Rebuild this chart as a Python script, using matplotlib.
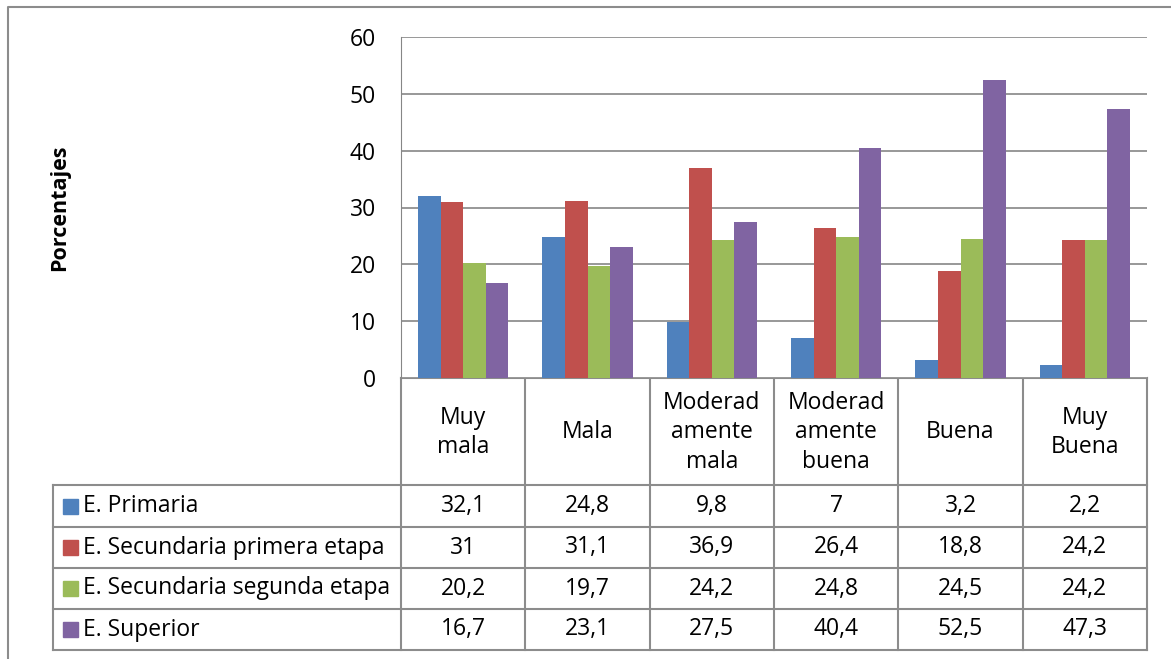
import matplotlib
matplotlib.use("Agg")
import matplotlib.pyplot as plt
import numpy as np

# ── data ──
categories = ["Muy\nmala", "Mala", "Moderad\namente\nmala", "Moderad\namente\nbuena", "Buena", "Muy\nBuena"]
series_names = ["E. Primaria", "E. Secundaria primera etapa",
                "E. Secundaria segunda etapa", "E. Superior"]
primaria = [32.1, 24.8, 9.8, 7, 3.2, 2.2]
sec_primera = [31, 31.1, 36.9, 26.4, 18.8, 24.2]
sec_segunda = [20.2, 19.7, 24.2, 24.8, 24.5, 24.2]
superior = [16.7, 23.1, 27.5, 40.4, 52.5, 47.3]
yticks = [0, 10, 20, 30, 40, 50, 60]

COLORS = ["#4F81BD", "#C0504D", "#9BBB59", "#8064A2"]
GRID = "#868686"
FONT = "Open Sans"
FS = 16.5

W, H = 1171, 659
fig = plt.figure(figsize=(W / 100, H / 100), dpi=100)
fig.patch.set_facecolor("white")

# layout in pixels
px_l, px_r = 401, 1147
py_top, py_zero = 37, 378


def fx(x):
    return x / W


def fy(y):
    return 1 - y / H


ax = fig.add_axes([fx(px_l), fy(py_zero), fx(px_r - px_l), (py_zero - py_top) / H])
data = [primaria, sec_primera, sec_segunda, superior]
x = np.arange(len(categories))
bw = 1 / 5.5
for i, (vals, col) in enumerate(zip(data, COLORS)):
    ax.bar(x + (i - 1.5) * bw, vals, width=bw, color=col, zorder=3)

ax.set_xlim(-0.5, len(categories) - 0.5)
ax.set_ylim(0, 60)
ax.set_yticks(yticks)
ax.set_yticklabels([str(t) for t in yticks], fontsize=FS, family=FONT)
ax.set_xticks([])
ax.yaxis.grid(True, color=GRID, linewidth=1.2, zorder=0)
for s in ["top", "right", "bottom"]:
    ax.spines[s].set_visible(False)
ax.spines["left"].set_color(GRID)
ax.tick_params(axis="y", length=0, pad=18)

# overlay for the data table and frame
ov = fig.add_axes([0, 0, 1, 1], zorder=-1)
ov.set_xlim(0, W)
ov.set_ylim(H, 0)
ov.axis("off")

lc = "#8c8c8c"
# outer chart frame
ov.plot([8, 8, 1170], [H + 5, 7, 7], color=lc, lw=1.5)

col_edges = np.linspace(px_l, px_r, len(categories) + 1)
header_bottom = 485
row_edges = [485, 527, 568, 609, 650]
table_left = 53

# vertical lines
ov.plot([px_l, px_l], [py_zero, row_edges[-1]], color=lc, lw=1.5)
for cx in col_edges[1:]:
    ov.plot([cx, cx], [py_zero, row_edges[-1]], color=lc, lw=1.5)
ov.plot([table_left, table_left], [row_edges[0], row_edges[-1]], color=lc, lw=1.5)
# horizontal lines
ov.plot([px_l, px_r], [py_zero, py_zero], color=lc, lw=1.5)
for ry in row_edges:
    ov.plot([table_left, px_r], [ry, ry], color=lc, lw=1.5)

# header labels
for j, cat in enumerate(categories):
    cx = (col_edges[j] + col_edges[j + 1]) / 2
    ov.text(cx, (py_zero + header_bottom) / 2 + 1, cat, ha="center", va="center",
            fontsize=FS, family=FONT, linespacing=1.32)

# rows
for i, (name, vals, col) in enumerate(zip(series_names, data, COLORS)):
    cy = (row_edges[i] + row_edges[i + 1]) / 2
    ov.add_patch(plt.Rectangle((63, cy - 7.5), 15, 15, color=col))
    ov.text(83, cy, name, ha="left", va="center", fontsize=FS, family=FONT)
    for j, v in enumerate(vals):
        cx = (col_edges[j] + col_edges[j + 1]) / 2
        txt = ("%g" % v).replace(".", ",")
        ov.text(cx, cy, txt, ha="center", va="center", fontsize=FS, family=FONT)

fig.text(fx(60), fy(208), "Porcentajes", rotation=90, ha="center", va="center",
         fontsize=15.5, fontweight="bold", family=FONT)

fig.savefig("out.png", dpi=100, facecolor="white")
